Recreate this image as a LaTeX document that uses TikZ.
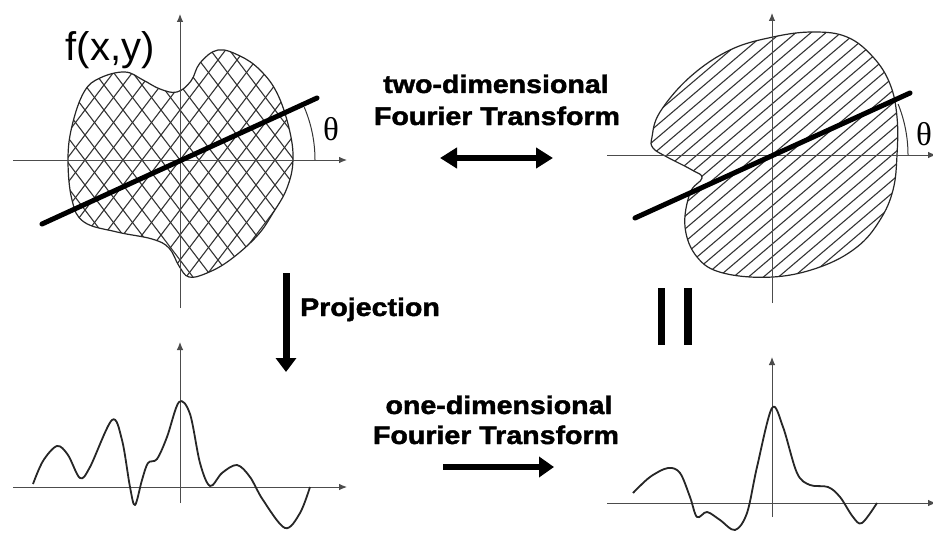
\documentclass[tikz,border=0pt]{standalone}
\usepackage{fontspec}
\usepackage{graphicx}
\usetikzlibrary{arrows.meta}
\newfontfamily\lsans{Liberation Sans}
\newfontfamily\heavy{Liberation Sans}[BoldFeatures={FakeBold=1.6}]
\newfontfamily\lserif{Liberation Serif}
\newcommand\wideTxt[1]{\scalebox{1.12}[1]{#1}}
\begin{document}
\begin{tikzpicture}[x=1pt,y=-1pt,
  axis/.style={line width=0.9pt, black!70, -{Latex[length=8pt,width=6.5pt]}},
  outline/.style={line width=1.2pt, black!85},
  hatch/.style={line width=1.1pt, black!80},
  thickline/.style={line width=5pt, line cap=round},
  curve/.style={line width=1.8pt, black!85, line join=round},
  fatarrow/.style={line width=6pt, -{Triangle[length=15pt,width=20pt]}},
  fatdouble/.style={line width=5.5pt, {Triangle[length=17pt,width=20pt]}-{Triangle[length=17pt,width=20pt]}},
  lbl/.style={font=\heavy\bfseries\fontsize{25.5}{30}\selectfont, inner sep=0pt, anchor=base},
  greek/.style={font=\lserif\fontsize{33}{36}\selectfont, inner sep=0pt, anchor=base},
]
\useasboundingbox[fill=white] (0,0) rectangle (933,532);

% ---------- top-left: f(x,y) ----------
\draw[outline, path picture={
  \foreach \k in {-14,...,14}{
    \draw[hatch] ({180+19*\k-114},10) -- ({180+19*\k+114},310);
    \draw[hatch] ({180+19*\k+114},10) -- ({180+19*\k-114},310);
  }}]
  plot[smooth cycle, tension=0.65] coordinates {
  (84,92) (100,78) (125,72) (143,80) (160,89) (177,92) (191,81) (200,63)
  (218,50) (240,56) (260,70) (277,93) (289,128) (293,160) (287,188)
  (273,213) (257,236) (230,260) (207,273) (189,277) (179,266) (169,248)
  (152,239) (117,232) (84,222) (72,200) (68,160) (72,126)};
\coordinate (oL) at (180,160);
\coordinate (xL0) at (13,160);  \coordinate (xL1) at (347,160);
\coordinate (yL0) at (180,308); \coordinate (yL1) at (180,14);
\draw[axis] (xL0) -- (xL1);
\draw[axis] (yL0) -- (yL1);
\coordinate (lL0) at (42,224); \coordinate (lL1) at (317,98);
\draw[thickline] (lL0) -- (lL1);
\draw[line width=1pt, black!80] (315,160) arc[start angle=0, end angle=23, radius=135pt];
\node[greek] (thL) at (331,140) {θ};
\node[font=\lsans\fontsize{40}{44}\selectfont, inner sep=0pt, anchor=base] (fxy) at (110,61) {f(x,y)};

% ---------- top-right: 2D Fourier transform ----------
\draw[outline, path picture={
  \foreach \k in {-22,...,22}{
    \draw[hatch] ({772+15*\k-160},{155+136}) -- ({772+15*\k+160},{155-136});
  }}]
  plot[smooth cycle, tension=0.65] coordinates {
  (652,137) (660,112) (690,77) (730,50) (773,37) (813,32) (847,37)
  (873,57) (890,84) (897,117) (897,155) (893,190) (880,220) (857,247)
  (820,267) (773,277) (723,273) (697,257) (685,227) (690,193) (702,178)
  (692,170) (667,157) (653,148)};
\coordinate (xR0) at (607,155);  \coordinate (xR1) at (936,155);
\coordinate (yR0) at (772,303);  \coordinate (yR1) at (772,13);
\draw[axis] (xR0) -- (xR1);
\draw[axis] (yR0) -- (yR1);
\coordinate (lR0) at (635,218); \coordinate (lR1) at (910,93);
\draw[thickline] (lR0) -- (lR1);
\draw[line width=1pt, black!80] (908,155) arc[start angle=0, end angle=22, radius=136pt];
\node[greek] (thR) at (924,145) {θ};

% ---------- bottom-left: projection ----------
\coordinate (xP0) at (13,487);  \coordinate (xP1) at (347,487);
\coordinate (yP0) at (180,503); \coordinate (yP1) at (180,342);
\draw[axis] (xP0) -- (xP1);
\draw[axis] (yP0) -- (yP1);
\draw[curve] plot[smooth, tension=0.55] coordinates {
  (33,484) (43,461) (57,446) (68,455) (80,478) (90,467) (112,420) (122,440)
  (130,487) (135,505) (142,480) (148,463) (157,459) (167,437) (179,402)
  (190,414) (200,463) (210,486) (222,473) (237,465) (250,477) (263,500)
  (285,528) (300,513) (310,487)};

% ---------- bottom-right: 1D Fourier transform ----------
\coordinate (xF0) at (607,503);  \coordinate (xF1) at (936,503);
\coordinate (yF0) at (772,517);  \coordinate (yF1) at (772,357);
\draw[axis] (xF0) -- (xF1);
\draw[axis] (yF0) -- (yF1);
\draw[curve] plot[smooth, tension=0.55] coordinates {
  (633,493) (650,477) (668,468) (680,473) (690,497) (697,517) (707,512)
  (720,520) (735,530) (747,513) (757,467) (772,408) (783,427) (797,473)
  (810,485) (828,487) (840,497) (853,517) (862,523) (877,503)};

% ---------- labels and arrows ----------
\node[lbl] (td1) at (496,93) {\wideTxt{two-dimensional}};
\node[lbl] (td2) at (497,125) {\wideTxt{Fourier Transform}};
\coordinate (dA) at (440,158); \coordinate (dB) at (553,158);
\draw[fatdouble] (dA) -- (dB);

\coordinate (pA) at (286,273); \coordinate (pB) at (286,372);
\draw[line width=7pt, -{Triangle[length=14pt,width=20pt]}] (pA) -- (pB);
\node[lbl, anchor=base west] (proj) at (300,316) {\wideTxt{Projection}};

\node[lbl] (od1) at (499,414) {\wideTxt{one-dimensional}};
\node[lbl] (od2) at (496,444) {\wideTxt{Fourier Transform}};
\coordinate (oA) at (443,467); \coordinate (oB) at (554,467);
\draw[fatarrow] (oA) -- (oB);

% equality bars
\fill (658,288) rectangle (665,345);
\fill (684,288) rectangle (692,345);
\end{tikzpicture}
\end{document}
